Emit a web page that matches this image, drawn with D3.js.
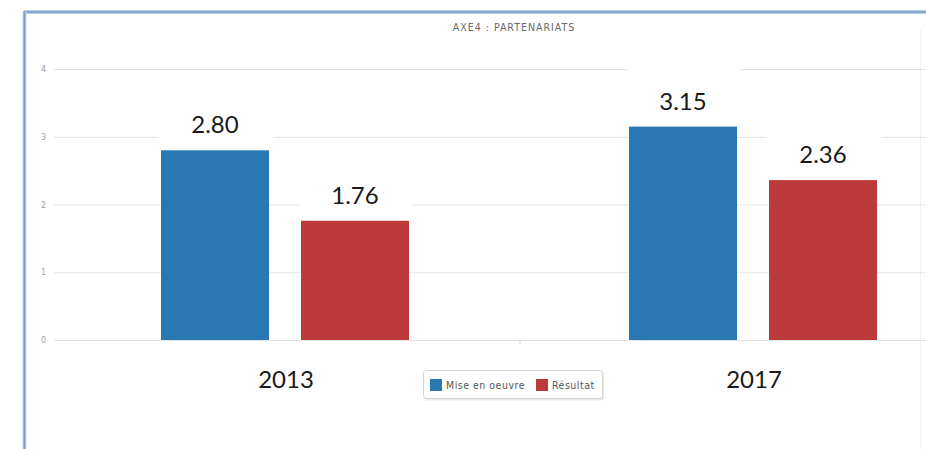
<!DOCTYPE html>
<html>
<head>
<meta charset="utf-8">
<script src="https://cdn.jsdelivr.net/npm/d3@7"></script>
<style>
  html, body { margin: 0; padding: 0; background: #ffffff; }
  svg { display: block; }
</style>
</head>
<body>
<svg id="chart" width="926" height="449"></svg>
<script>
// Data
const years = ["2013", "2017"];
const series = ["Mise en oeuvre", "Résultat"];
const miseEnOeuvre = [2.80, 3.15];
const resultat = [1.76, 2.36];
const yTicks = [0, 1, 2, 3, 4];
const colors = ["#2a78b3", "#bd3a3b"];
const title = "AXE4 : PARTENARIATS";

const values = [miseEnOeuvre, resultat];
const rows = years.map((yr, i) => ({
  year: yr,
  bars: series.map((s, j) => ({ series: s, value: values[j][i], color: colors[j] }))
}));

const svg = d3.select("#chart");

// Frame of the panel
svg.append("rect").attr("x", 0).attr("y", 0).attr("width", 926).attr("height", 449).attr("fill", "#ffffff");
svg.append("line").attr("x1", 24).attr("x2", 926).attr("y1", 12).attr("y2", 12)
  .attr("stroke", "#bcd3ea").attr("stroke-width", 4);
svg.append("line").attr("x1", 24).attr("x2", 926).attr("y1", 12).attr("y2", 12)
  .attr("stroke", "#6e98c4").attr("stroke-width", 1.5);
svg.append("line").attr("x1", 24.5).attr("x2", 24.5).attr("y1", 11).attr("y2", 449)
  .attr("stroke", "#c9d9ea").attr("stroke-width", 4);
svg.append("line").attr("x1", 24.5).attr("x2", 24.5).attr("y1", 11).attr("y2", 449)
  .attr("stroke", "#7f9bbb").attr("stroke-width", 2);
svg.append("line").attr("x1", 920.5).attr("x2", 920.5).attr("y1", 30).attr("y2", 449)
  .attr("stroke", "#f0f0f0").attr("stroke-width", 1);

// Scales
const x0 = d3.scaleBand().domain(years).range([52, 988]).padding(0);
const x1 = d3.scaleBand().domain(series).range([109, 357]).paddingInner(32 / 140).paddingOuter(0);
const y = d3.scaleLinear().domain([0, 4]).range([340, 69]);

// Title
svg.append("text")
  .attr("x", 514).attr("y", 31)
  .attr("text-anchor", "middle")
  .attr("font-family", "'DejaVu Sans Condensed', 'DejaVu Sans', sans-serif")
  .attr("font-size", 10.5)
  .attr("letter-spacing", 1)
  .attr("fill", "#6a6a6a")
  .text(title);

// Gridlines and y labels
const yAxis = d3.axisLeft(y).tickValues(yTicks).tickSize(-(926 - 54)).tickPadding(8).tickFormat(d3.format("d"));
const gy = svg.append("g").attr("transform", "translate(54,0)").call(yAxis);
gy.select(".domain").remove();
gy.selectAll(".tick line").attr("stroke", "#e4e4e4").attr("stroke-width", 1);
gy.selectAll(".tick text")
  .attr("fill", "#a0a0a0")
  .attr("font-size", 8)
  .attr("font-family", "'DejaVu Sans', sans-serif");

// Category boundary tick on the baseline
svg.append("line")
  .attr("x1", x0("2017")).attr("x2", x0("2017"))
  .attr("y1", y(0)).attr("y2", y(0) + 4)
  .attr("stroke", "#d8d8d8");

const groups = svg.append("g").selectAll("g")
  .data(rows).join("g")
  .attr("transform", d => `translate(${x0(d.year)},0)`);

// White label panels behind the value labels
groups.selectAll("rect.panel")
  .data(d => d.bars).join("rect")
  .attr("class", "panel")
  .attr("x", d => x1(d.series) - 2)
  .attr("width", x1.bandwidth() + 6)
  .attr("y", d => y(d.value) - 62)
  .attr("height", 58)
  .attr("fill", "#ffffff");

// Bars
groups.selectAll("rect.bar")
  .data(d => d.bars).join("rect")
  .attr("class", "bar")
  .attr("x", d => x1(d.series))
  .attr("width", x1.bandwidth())
  .attr("y", d => y(d.value))
  .attr("height", d => y(0) - y(d.value))
  .attr("fill", d => d.color);

// Value labels
groups.selectAll("text.val")
  .data(d => d.bars).join("text")
  .attr("class", "val")
  .attr("x", d => x1(d.series) + x1.bandwidth() / 2)
  .attr("y", d => y(d.value) - 17)
  .attr("text-anchor", "middle")
  .attr("font-family", "Lato, 'Open Sans', sans-serif")
  .attr("font-size", 24)
  .attr("fill", "#1a1a1a")
  .text(d => d3.format(".2f")(d.value));

// Category labels
const xAxis = d3.axisBottom(x0).tickSize(0).tickPadding(0);
const gx = svg.append("g").attr("transform", "translate(0,368)").call(xAxis);
gx.select(".domain").remove();
gx.selectAll(".tick text")
  .attr("dy", 0).attr("y", 20)
  .attr("font-family", "Lato, 'Open Sans', sans-serif")
  .attr("font-size", 24)
  .attr("fill", "#1a1a1a");

// Legend
const legend = svg.append("g").attr("transform", "translate(423,370)");
legend.append("rect")
  .attr("x", 1).attr("y", 1.5).attr("width", 180).attr("height", 29).attr("rx", 3)
  .attr("fill", "#e9e9e9");
legend.append("rect")
  .attr("x", 0.5).attr("y", 0.5).attr("width", 179).attr("height", 28).attr("rx", 3)
  .attr("fill", "#ffffff").attr("stroke", "#d4d4d4");
const legendX = [7, 113];
const items = legend.selectAll("g.item")
  .data(series).join("g")
  .attr("class", "item")
  .attr("transform", (d, i) => `translate(${legendX[i]},0)`);
items.append("rect")
  .attr("x", 0).attr("y", 9).attr("width", 12).attr("height", 12)
  .attr("fill", (d, i) => colors[i]);
items.append("text")
  .attr("x", 16).attr("y", 19)
  .attr("font-family", "'DejaVu Sans Condensed', 'DejaVu Sans', sans-serif")
  .attr("font-size", 10.5)
  .attr("letter-spacing", 0.5)
  .attr("fill", "#555")
  .text(d => d);
</script>
</body>
</html>
